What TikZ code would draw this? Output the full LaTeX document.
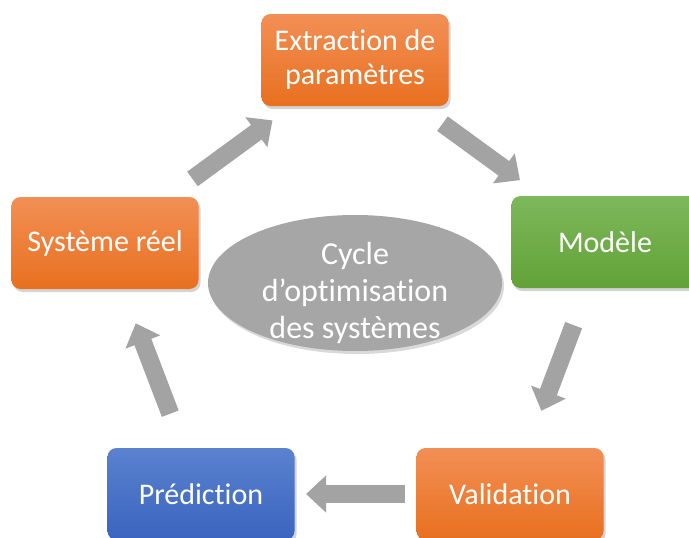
\documentclass[tikz,border=0pt]{standalone}
\usepackage{fontspec}
\setmainfont{Carlito}[Ligatures=NoCommon]
\usetikzlibrary{shapes.geometric,shadows,calc,arrows.meta}

\definecolor{orangeHaut}{HTML}{F28F55}
\definecolor{orangeBas}{HTML}{E8701F}
\definecolor{vertHaut}{HTML}{7DB85B}
\definecolor{vertBas}{HTML}{62A237}
\definecolor{bleuHaut}{HTML}{5A82CF}
\definecolor{bleuBas}{HTML}{3A64BF}
\definecolor{grisCycle}{HTML}{A6A6A6}
\definecolor{grisFleche}{HTML}{A3A3A3}

\tikzset{
  etape/.style={rounded corners=9pt, minimum width=187pt, minimum height=92pt,
    inner sep=0pt, text=white, align=center, font=\fontsize{30}{34}\selectfont,
    drop shadow={shadow xshift=2pt, shadow yshift=-3pt, opacity=0.35}},
  etapeorange/.style={etape, top color=orangeHaut, bottom color=orangeBas},
  etapevert/.style={etape, top color=vertHaut, bottom color=vertBas},
  etapebleu/.style={etape, top color=bleuHaut, bottom color=bleuBas},
  fleche/.style={line width=18pt, draw=grisFleche,
    -{Triangle[length=20pt,width=36pt]}}
}

\begin{document}
\begin{tikzpicture}[x=1pt,y=-1pt]

        \clip (0,0) rectangle (689,538);
        \useasboundingbox (0,0) rectangle (689,538);

        \node[etapeorange] (ext) at (355,60) {Extraction de\\paramètres};
        \node[etapevert] (mod) at (605,242) {Modèle};
        \node[etapeorange] (val) at (510,494) {Validation};
        \node[etapebleu] (pred) at (201,494) {Prédiction};
        \node[etapeorange] (sys) at (105,243) {Système réel};

        \node[ellipse, fill=grisCycle, minimum width=294pt, minimum height=136pt,
          inner sep=0pt,
          drop shadow={shadow xshift=2pt, shadow yshift=-3pt, opacity=0.3}]
          (forme) at (355,283) {};
        \node[text=white, align=center, font=\fontsize{32}{37}\selectfont]
          (cycle) at (355,293) {Cycle\\d’optimisation\\des systèmes};

        \draw[fleche] ($(sys)!0.35!(ext)$) -- ($(sys)!0.67!(ext)$);
        \draw[fleche] ($(ext)!0.35!(mod)$) -- ($(ext)!0.66!(mod)$);
        \draw[fleche] ($(mod)!0.33!(val)$) -- ($(mod)!0.67!(val)$);
        \draw[fleche] ($(val)!0.34!(pred)$) -- ($(val)!0.66!(pred)$);
        \draw[fleche] ($(pred)!0.32!(sys)$) -- ($(pred)!0.68!(sys)$);
    \end{tikzpicture}
\end{document}
